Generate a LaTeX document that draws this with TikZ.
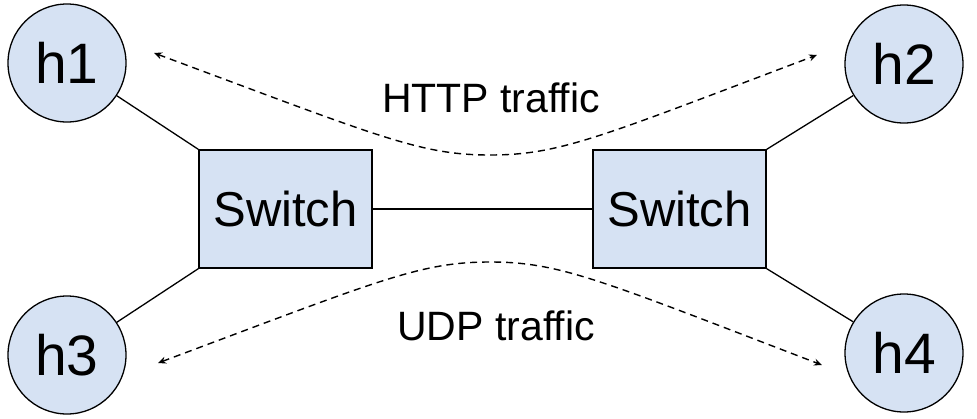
\documentclass[tikz,border=0pt]{standalone}
\usepackage{fontspec}
\setmainfont{Liberation Sans}
\usetikzlibrary{arrows.meta}
\definecolor{nodefill}{RGB}{214,226,243}
\begin{document}
\begin{tikzpicture}[x=1pt,y=-1pt,
  host/.style={circle,draw=black,line width=1.3pt,fill=nodefill,minimum size=118pt,inner sep=0pt,font=\fontsize{57}{60}\selectfont},
  switchbox/.style={rectangle,draw=black,line width=1.3pt,fill=nodefill,minimum width=173pt,minimum height=118pt,inner sep=0pt,font=\fontsize{49}{52}\selectfont},
  link/.style={line width=1.3pt,draw=black},
  flow/.style={line width=1.4pt,dash pattern=on 7pt off 5pt,{Stealth[length=8pt,width=7pt]}-{Stealth[length=8pt,width=7pt]}},
  lbl/.style={font=\fontsize{41}{44}\selectfont,inner sep=0pt}]
\useasboundingbox (0,0) rectangle (977,418);
\node[switchbox] (s1) at (285.5,209) {Switch};
\node[switchbox] (s2) at (679.5,209) {Switch};
\node[host] (h1) at (67,63) {h1};
\node[host] (h2) at (904,64) {h2};
\node[host] (h3) at (67,355) {h3};
\node[host] (h4) at (904,353) {h4};
\draw[link] (h1) -- (s1.north west);
\draw[link] (h3) -- (s1.south west);
\draw[link] (h2) -- (s2.north east);
\draw[link] (h4) -- (s2.south east);
\draw[link] (s1) -- (s2);
\coordinate (a1) at (154,53);
\coordinate (a2) at (817,55);
\coordinate (b1) at (158,363);
\coordinate (b2) at (822,365);
\draw[flow] (a1) .. controls (380,137) and (420,155) .. (490,155) .. controls (560,155) and (600,137) .. (a2);
\draw[flow] (b1) .. controls (380,280) and (420,262) .. (490,262) .. controls (560,262) and (600,280) .. (b2);
\node[lbl] (t1) at (491,98) {HTTP traffic};
\node[lbl] (t2) at (496,326) {UDP traffic};
\end{tikzpicture}
\end{document}
